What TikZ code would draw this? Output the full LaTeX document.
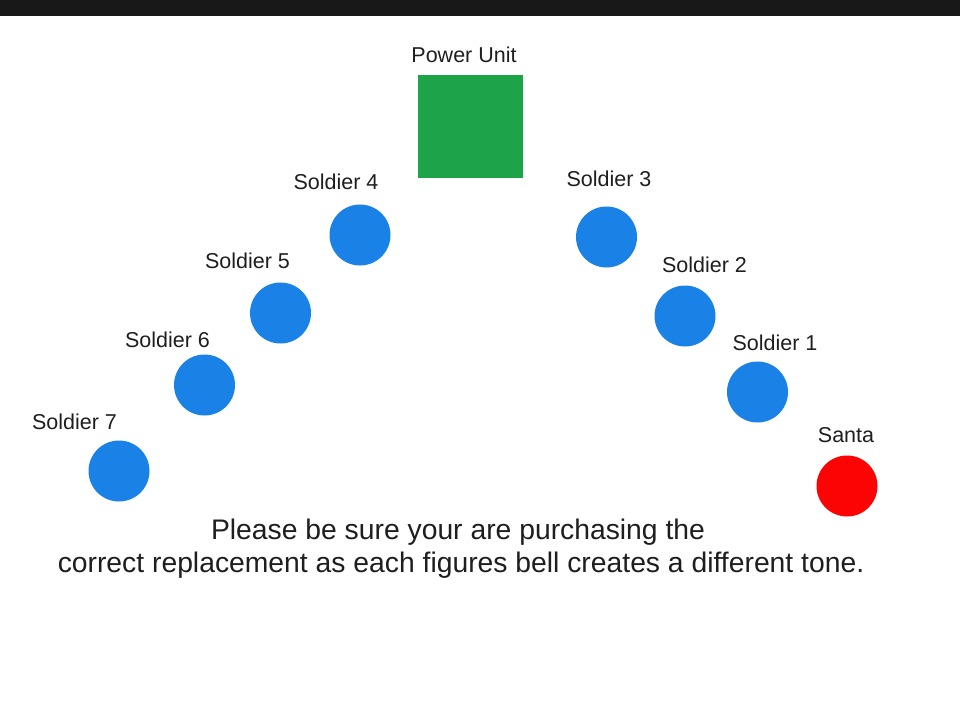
\documentclass[tikz,border=0pt]{standalone}
\usepackage{fontspec}
\setmainfont{Liberation Sans}
\usetikzlibrary{positioning}
\definecolor{bellblue}{RGB}{26,130,230}
\definecolor{unitgreen}{RGB}{30,164,72}
\definecolor{santared}{RGB}{252,4,4}
\definecolor{barblack}{RGB}{24,24,24}
\definecolor{ink}{RGB}{30,30,30}

\begin{document}
\begin{tikzpicture}[x=1pt,y=-1pt]
    \tikzset{
      tag/.style={text=ink, anchor=base, inner sep=0pt, font=\fontsize{21.5}{24}\selectfont},
      note/.style={text=ink, anchor=base, inner sep=0pt, font=\fontsize{28.3}{33}\selectfont},
      bell/.style={circle, fill=bellblue, minimum size=61pt, inner sep=0pt},
    }

    % Page and top bar.
    \useasboundingbox (0,0) rectangle (960,726);
    \fill [barblack] (0,0) rectangle (960,16);

    % Power unit.
    \path (470.5,126.5) node [fill=unitgreen, minimum width=105pt, minimum height=103pt, inner sep=0pt] (unit) {};
    \path (464,62)      node [tag] (unitname) {Power Unit};

    % Figures, left arm.
    \path (360,235)   node [bell] (s4) {};
    \path (280.5,313) node [bell] (s5) {};
    \path (204.5,385) node [bell] (s6) {};
    \path (119,471)   node [bell] (s7) {};

    % Figures, right arm.
    \path (606.5,237) node [bell] (s3) {};
    \path (685,316)   node [bell] (s2) {};
    \path (757.5,392) node [bell] (s1) {};
    \path (847,486)   node [bell, fill=santared] (santa) {};

    % Names.
    \path (336,189)   node [tag] (s4name) {Soldier 4};
    \path (247.5,268) node [tag] (s5name) {Soldier 5};
    \path (167.5,347) node [tag] (s6name) {Soldier 6};
    \path (74.5,429)  node [tag] (s7name) {Soldier 7};
    \path (609,186)   node [tag] (s3name) {Soldier 3};
    \path (704.5,272) node [tag] (s2name) {Soldier 2};
    \path (775,350)   node [tag] (s1name) {Soldier 1};
    \path (846,442)   node [tag] (santaname) {Santa};

    % Note.
    \path (458,539) node [note] (note1) {Please be sure your are purchasing the};
    \path (461,572) node [note] (note2) {correct replacement as each figures bell creates a different tone.};

\end{tikzpicture}
\end{document}
